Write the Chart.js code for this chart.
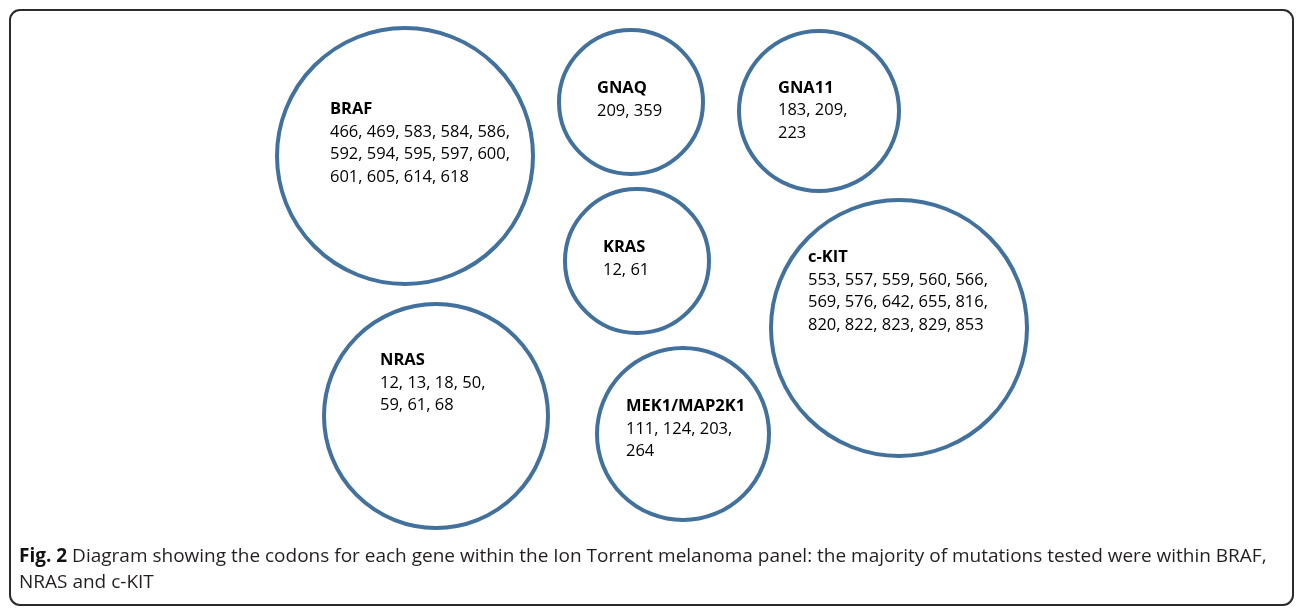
<!DOCTYPE html>
<html>
<head>
<meta charset="utf-8">
<script src="https://cdn.jsdelivr.net/npm/chart.js@4/dist/chart.umd.min.js"></script>
<style>
  html, body { margin: 0; padding: 0; background: #fff; }
  #wrap { position: relative; width: 1296px; height: 609px; overflow: hidden; }
  #frame {
    position: absolute; left: 9px; top: 9px; width: 1281px; height: 593px;
    border: 2px solid #2b2b2b; border-radius: 11px;
  }
  #diagram { position: absolute; left: 0; top: 0; }
  #caption {
    position: absolute; left: 19px; top: 542px; width: 1270px;
    font-family: "Open Sans", sans-serif; font-size: 19px; line-height: 26px;
    color: #231f20; white-space: nowrap;
  }
  #caption b { color: #111; }
</style>
</head>
<body>
<div id="wrap">
  <div id="frame"></div>
  <canvas id="diagram" width="1296" height="609"></canvas>
  <div id="caption"><b>Fig. 2</b> Diagram showing the codons for each gene within the Ion Torrent melanoma panel: the majority of mutations tested were within BRAF,<br>NRAS and c-KIT</div>
</div>
<script>
// genes in the Ion Torrent melanoma panel and their codons
const genes = ["BRAF", "GNAQ", "GNA11", "KRAS", "c-KIT", "NRAS", "MEK1/MAP2K1"];
const codons = [
  [466, 469, 583, 584, 586, 592, 594, 595, 597, 600, 601, 605, 614, 618],
  [209, 359],
  [183, 209, 223],
  [12, 61],
  [553, 557, 559, 560, 566, 569, 576, 642, 655, 816, 820, 822, 823, 829, 853],
  [12, 13, 18, 50, 59, 61, 68],
  [111, 124, 203, 264]
];
// circle centres (diagram units) and radii
const centerX = [405, 631, 819, 637, 899, 436, 683];
const centerY = [156, 102, 111, 261, 328, 416, 434];
const radius = [128, 72, 80, 72, 128, 112, 86];

// text box layout inside each circle
const perLine = [5, 2, 2, 2, 5, 4, 3];
const labelDx = [-75, -34, -41, -34, -91, -56, -57];
const labelDy = [-42, -9, -18.5, -9, -66, -51, -23];
const lineGap = 22.5;

const textFont = '"Open Sans", sans-serif';
const textSize = 16.5;

function codonLines(list, n) {
  const out = [];
  for (let i = 0; i < list.length; i += n) {
    const chunk = list.slice(i, i + n).join(", ");
    out.push(i + n < list.length ? chunk + "," : chunk);
  }
  return out;
}

const circleText = {
  id: "circleText",
  afterDatasetsDraw(chart) {
    const ctx = chart.ctx;
    const xs = chart.scales.x, ys = chart.scales.y;
    ctx.save();
    ctx.fillStyle = "#000";
    ctx.textAlign = "left";
    ctx.textBaseline = "alphabetic";
    genes.forEach(function (g, i) {
      const px = xs.getPixelForValue(centerX[i]) + labelDx[i];
      const py = ys.getPixelForValue(centerY[i]) + labelDy[i];
      ctx.font = "bold " + textSize + "px " + textFont;
      ctx.fillText(g, px, py);
      ctx.font = textSize + "px " + textFont;
      codonLines(codons[i], perLine[i]).forEach(function (line, k) {
        ctx.fillText(line, px, py + lineGap * (k + 1));
      });
    });
    ctx.restore();
  }
};

new Chart(document.getElementById("diagram"), {
  type: "bubble",
  data: {
    datasets: [{
      data: genes.map(function (g, i) { return { x: centerX[i], y: centerY[i], r: radius[i] }; }),
      backgroundColor: "rgba(255,255,255,0)",
      borderColor: "#41719C",
      borderWidth: 4,
      hoverRadius: 0,
      hoverBorderWidth: 4,
      clip: false
    }]
  },
  options: {
    responsive: false,
    animation: false,
    events: [],
    layout: { padding: 0, autoPadding: false },
    plugins: { legend: { display: false }, tooltip: { enabled: false } },
    scales: {
      x: { type: "linear", min: 0, max: 1296, display: false },
      y: { type: "linear", min: 0, max: 609, reverse: true, display: false }
    }
  },
  plugins: [circleText]
});
</script>
</body>
</html>
